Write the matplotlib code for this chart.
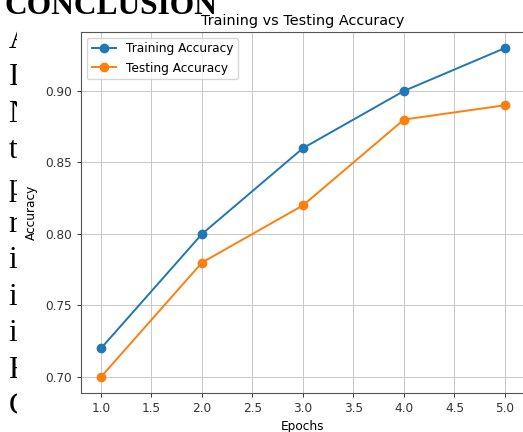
import matplotlib.pyplot as plt
from matplotlib.patches import Rectangle

# data
epochs = [1, 2, 3, 4, 5]
train_acc = [0.72, 0.80, 0.86, 0.90, 0.93]
test_acc = [0.70, 0.78, 0.82, 0.88, 0.89]

# page text that shows behind the chart (cut off by it)
page_head = "CONCLUSION"
page_letters = ["A", "I", "N", "t", "p", "r", "i", "i", "i", "F", "C"]

W, H = 523, 432
fig = plt.figure(figsize=(W / 100, H / 100), dpi=100)

# document text, serif, under the chart picture
fig.text(4 / W, 1 - 14 / H, page_head, family="Liberation Serif", weight="bold",
         fontsize=22.7, ha="left", va="baseline", zorder=1)
for k, ch in enumerate(page_letters):
    fig.text(8.5 / W, 1 - (48.5 + 36.6 * k) / H, ch, family="Liberation Serif",
             fontsize=22.5, ha="left", va="baseline", zorder=1)

# white background of the pasted chart image
fig.patches.append(Rectangle((16.5 / W, 0), 1, 1 - 16 / H, transform=fig.transFigure,
                             facecolor="white", edgecolor="none", zorder=2))

fs = 8.7
ax = fig.add_axes([80.8 / W, 1 - 393.4 / H, 444.4 / W, 361.8 / H])
ax.set_zorder(3)
ax.patch.set_alpha(0)

ax.plot(epochs, train_acc, marker="o", lw=1.4, ms=6, label="Training Accuracy")
ax.plot(epochs, test_acc, marker="o", lw=1.4, ms=6, label="Testing Accuracy")

ax.set_title("Training vs Testing Accuracy", fontsize=10.4, pad=5)
ax.set_xlabel("Epochs", fontsize=fs, labelpad=3)
ax.set_ylabel("Accuracy", fontsize=fs, labelpad=5)
ax.tick_params(labelsize=fs, width=0.7, length=3, colors="#333333")
ax.grid(True, lw=0.7, color="#c8c8c8")
for s in ax.spines.values():
    s.set_linewidth(0.8)
    s.set_color("#555555")
ax.legend(loc="upper left", fontsize=fs)

fig.savefig("out.png", dpi=100)
